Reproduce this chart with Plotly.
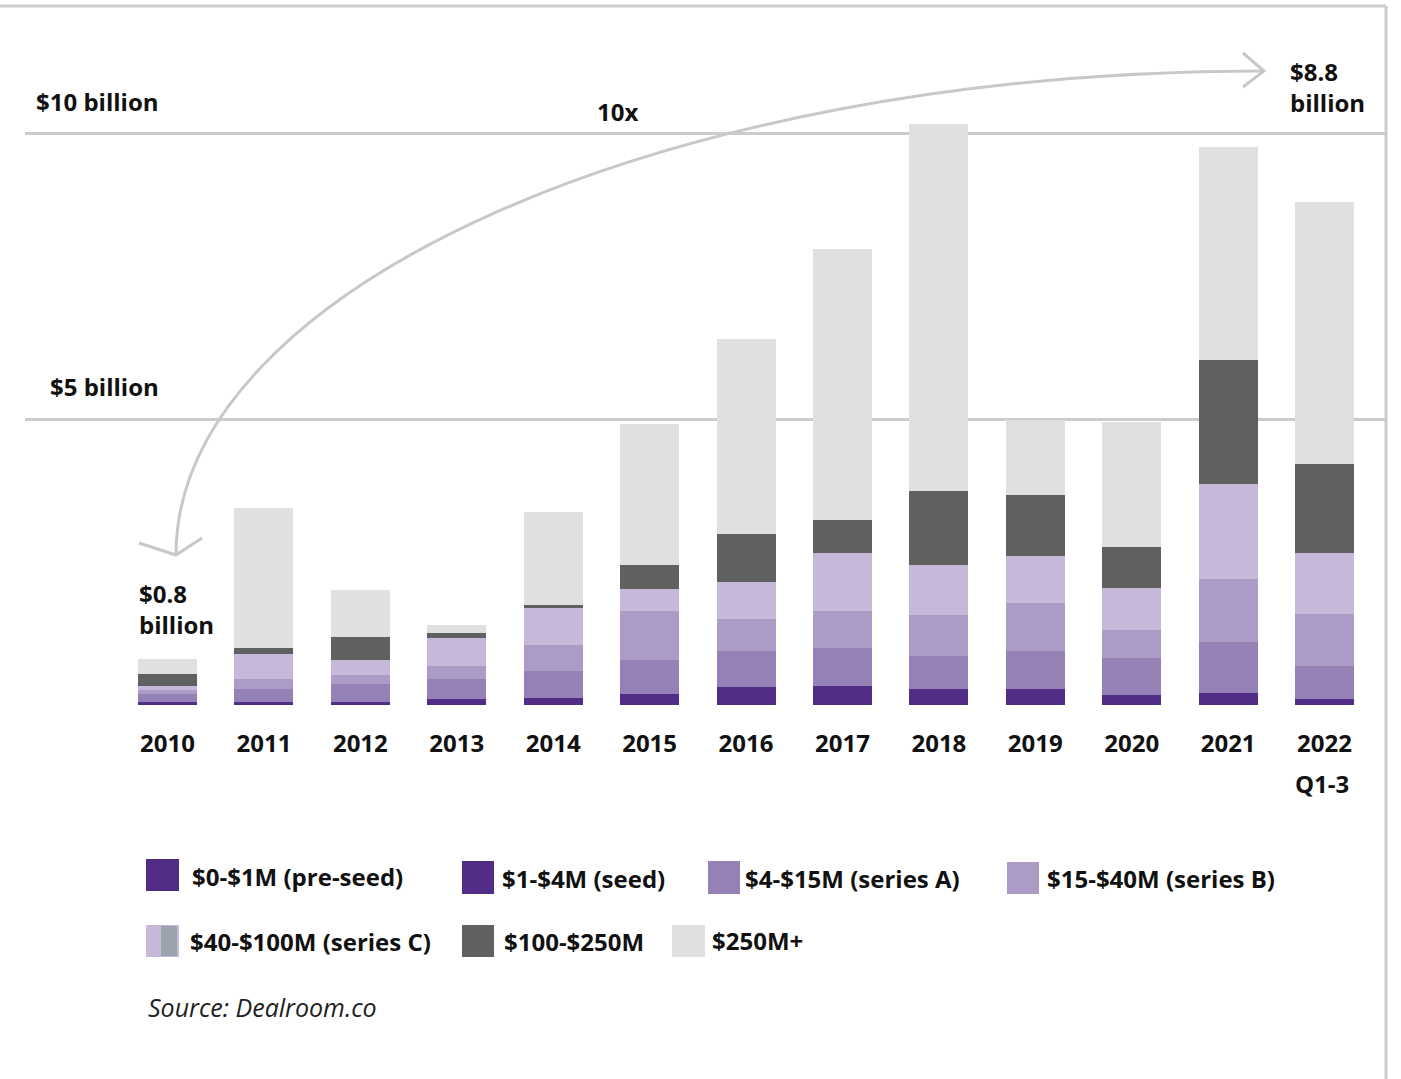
import plotly.graph_objects as go

# Annual venture funding by round size, in $ billion
years = ["2010", "2011", "2012", "2013", "2014", "2015", "2016",
         "2017", "2018", "2019", "2020", "2021", "2022"]

pre_seed = [0.01, 0.01, 0.01, 0.02, 0.02, 0.03, 0.04, 0.04, 0.04, 0.04, 0.03, 0.03, 0.02]
seed = [0.04, 0.04, 0.05, 0.09, 0.11, 0.17, 0.27, 0.29, 0.24, 0.24, 0.14, 0.18, 0.08]
series_a = [0.14, 0.23, 0.30, 0.35, 0.47, 0.59, 0.63, 0.66, 0.58, 0.66, 0.66, 0.89, 0.58]
series_b = [0.07, 0.17, 0.16, 0.22, 0.45, 0.85, 0.56, 0.66, 0.72, 0.85, 0.49, 1.10, 0.91]
series_c = [0.07, 0.45, 0.26, 0.49, 0.65, 0.39, 0.65, 1.00, 0.86, 0.81, 0.72, 1.66, 1.07]
mega_100_250 = [0.21, 0.10, 0.41, 0.09, 0.05, 0.42, 0.84, 0.59, 1.31, 1.08, 0.73, 2.17, 1.56]
mega_250_plus = [0.26, 2.45, 0.82, 0.14, 1.63, 2.46, 3.41, 4.74, 6.40, 1.31, 2.17, 3.72, 4.58]

series_names = ["$0-$1M (pre-seed)", "$1-$4M (seed)", "$4-$15M (series A)",
                "$15-$40M (series B)", "$40-$100M (series C)", "$100-$250M", "$250M+"]
series_values = [pre_seed, seed, series_a, series_b, series_c, mega_100_250, mega_250_plus]
series_colors = ["#512D87", "#512D87", "#9581B6", "#AC9AC7", "#C6B8D8", "#606060", "#E0E0E2"]

y_ticks = [0, 5, 10]

W, H = 1401, 1079
ML, MR, MT, MB = 25, 16, 0, 374
PX_PER_B = 57.2
FONT = "Open Sans"
GRID = "#CCCCCC"


def fx(px):
    return (px - ML) / (W - ML - MR)


def fy(py):
    return (H - MB - py) / (H - MT - MB)


fig = go.Figure()
for name, vals, col in zip(series_names, series_values, series_colors):
    fig.add_trace(go.Bar(
        x=years, y=vals, name=name, width=0.612,
        marker=dict(color=col, line=dict(width=0)),
        showlegend=False,
    ))

shapes = []
annotations = []

# frame lines on top and right
shapes.append(dict(type="line", xref="paper", yref="paper", x0=fx(0), x1=fx(1386),
                   y0=fy(6), y1=fy(6), line=dict(color=GRID, width=3), layer="below"))
shapes.append(dict(type="line", xref="paper", yref="paper", x0=fx(1386), x1=fx(1386),
                   y0=fy(6), y1=fy(1079), line=dict(color=GRID, width=3), layer="below"))

# curved growth arrow
p0, p1, p2, p3 = (1264, 71), (663, 71), (176, 288), (176, 555)
path = "M {},{} C {},{} {},{} {},{}".format(
    fx(p0[0]), fy(p0[1]), fx(p1[0]), fy(p1[1]),
    fx(p2[0]), fy(p2[1]), fx(p3[0]), fy(p3[1]))
shapes.append(dict(type="path", xref="paper", yref="paper", path=path,
                   line=dict(color="#C8C8C8", width=3)))
for head in ([(1243, 53), (1264, 71), (1243, 87)], [(139, 543), (176, 555), (202, 538)]):
    hp = "M {},{} L {},{} L {},{}".format(
        fx(head[0][0]), fy(head[0][1]), fx(head[1][0]), fy(head[1][1]),
        fx(head[2][0]), fy(head[2][1]))
    shapes.append(dict(type="path", xref="paper", yref="paper", path=hp,
                       line=dict(color="#C8C8C8", width=3)))


def label(text, px, py, anchor="left", size=24, bold=True, italic=False, color="#111111"):
    annotations.append(dict(
        text=text, xref="paper", yref="paper", x=fx(px), y=fy(py),
        xanchor=anchor, yanchor="middle", showarrow=False, align=anchor if anchor != "center" else "center",
        font=dict(family=FONT, size=size, color=color,
                  weight="bold" if bold else "normal",
                  style="italic" if italic else "normal"),
    ))


label("$10 billion", 34, 102)
label("$5 billion", 48, 386)
label("10x", 617, 111, anchor="center")
label("$8.8<br>billion", 1288, 87)
label("$0.8<br>billion", 137, 609)
label("Q1-3", 1322, 783, anchor="center")

# legend swatches and labels
legend_items = [
    (0, (146, 859, 179, 891), (190, 876)),
    (1, (462, 861, 494, 894), (500, 878)),
    (2, (708, 861, 740, 894), (743, 878)),
    (3, (1007, 862, 1039, 894), (1045, 879)),
    (4, (146, 925, 179, 957), (188, 941)),
    (5, (462, 925, 494, 957), (502, 941)),
    (6, (672, 925, 705, 957), (710, 940)),
]
for idx, (x0, y0, x1, y1), (tx, ty) in legend_items:
    shapes.append(dict(type="rect", xref="paper", yref="paper",
                       x0=fx(x0), x1=fx(x1), y0=fy(y1), y1=fy(y0),
                       fillcolor=series_colors[idx], line=dict(width=0)))
    label(series_names[idx], tx, ty)
# inner tint on the series C swatch
shapes.append(dict(type="rect", xref="paper", yref="paper",
                   x0=fx(161), x1=fx(177), y0=fy(956), y1=fy(926),
                   fillcolor="#9BA3AE", line=dict(width=0)))

label("Source: Dealroom.co", 146, 1007, size=25, bold=False, italic=True, color="#222222")

fig.update_layout(
    width=W, height=H,
    margin=dict(l=ML, r=MR, t=MT, b=MB),
    paper_bgcolor="white", plot_bgcolor="white",
    barmode="stack", bargap=0.388,
    shapes=shapes, annotations=annotations,
    showlegend=False,
    xaxis=dict(
        type="category", range=[-1.478, 12.627], showgrid=False, zeroline=False,
        showline=False, ticks="", ticklabelstandoff=22,
        tickfont=dict(family=FONT, size=24, color="#111111", weight="bold"),
    ),
    yaxis=dict(
        range=[0, (H - MT - MB) / PX_PER_B], tickvals=y_ticks, showticklabels=False,
        showgrid=True, gridcolor=GRID, gridwidth=2.5, zeroline=False, showline=False,
    ),
)

fig.write_html("out.html")
